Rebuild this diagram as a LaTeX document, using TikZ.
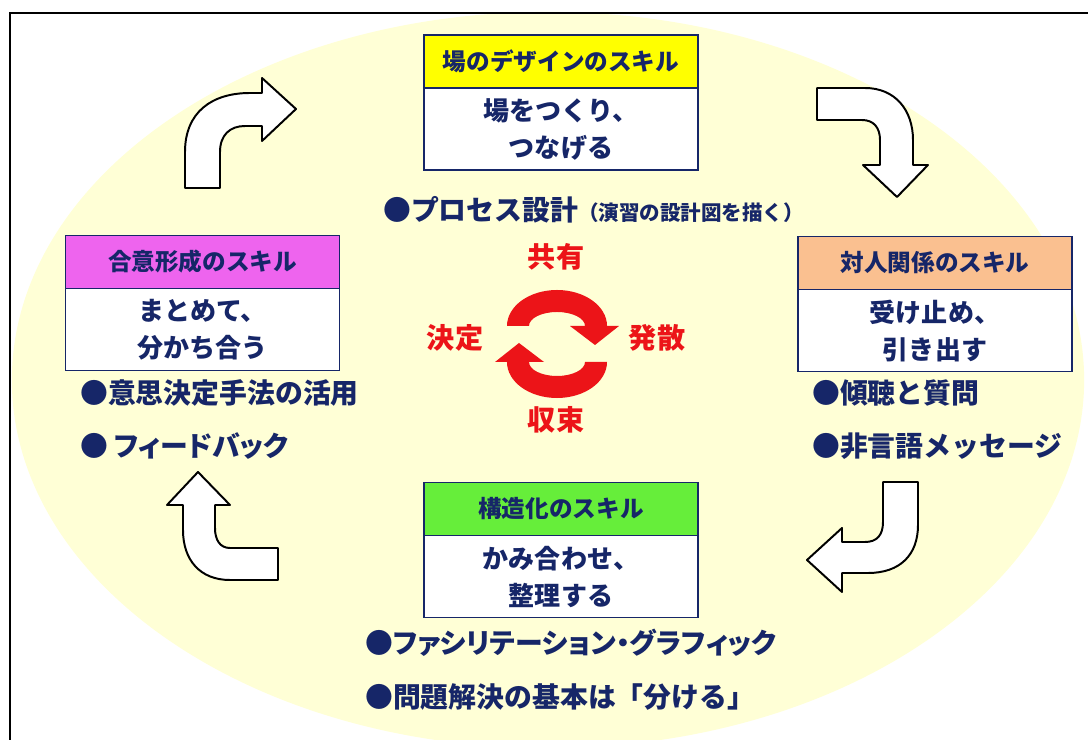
\documentclass[tikz,border=0pt]{standalone}
\usepackage{fontspec}
\setmainfont{Noto Sans CJK JP}
\newfontfamily\jpprop{Noto Sans CJK JP}[RawFeature=+palt]
\usetikzlibrary{positioning}
\definecolor{navy}{RGB}{22,38,104}
\definecolor{ovalyellow}{RGB}{255,255,214}
\definecolor{cyclered}{RGB}{236,20,24}
\definecolor{hdryellow}{RGB}{255,255,0}
\definecolor{hdrorange}{RGB}{250,192,144}
\definecolor{hdrpink}{RGB}{238,100,238}
\definecolor{hdrgreen}{RGB}{102,238,58}
\tikzset{hdr/.style={draw=navy,line width=1pt,outer sep=0pt,inner sep=0pt,
    minimum width=6.85cm,minimum height=1.33cm,text=navy,
    font=\fontsize{16.8}{18}\selectfont\bfseries}}
\tikzset{skillbody/.style={draw=navy,line width=1pt,outer sep=0pt,inner sep=0pt,fill=white,
    minimum width=6.85cm,minimum height=2.05cm,align=center,text=navy,
    font=\fontsize{18.5}{26.3}\selectfont\bfseries}}
\tikzset{bul/.style={anchor=west,inner sep=0pt,text=navy,
    font=\fontsize{19.8}{22}\selectfont\bfseries}}
\tikzset{cyc/.style={inner sep=0pt,text=cyclered,font=\fontsize{20}{22}\selectfont\bfseries}}
\tikzset{bentarrow/.style={draw=black,fill=white,line width=1.4pt,line join=round}}

\begin{document}
\begin{tikzpicture}[x=0.025cm,y=-0.025cm]
\useasboundingbox (0,0) rectangle (1088,740);
\clip (0,0) rectangle (1088,740);
\fill[white] (0,0) rectangle (1088,740);
\fill[ovalyellow] (548,380) ellipse [x radius=13.4cm, y radius=9.2cm];
\draw[line width=2pt] (10,13) rectangle (1110,770);
%
\node (designhdr) [hdr,fill=hdryellow] at (561,61.5) {場のデザインのスキル};
\node (design) [skillbody,below=0pt of designhdr] {場をつくり、\\つなげる};
\node (relhdr) [hdr,fill=hdrorange] at (935,263) {対人関係のスキル};
\node (rel) [skillbody,below=0pt of relhdr] {受け止め、\\引き出す};
\node (agreehdr) [hdr,fill=hdrpink] at (202.5,262) {合意形成のスキル};
\node (agree) [skillbody,below=0pt of agreehdr] {まとめて、\\分かち合う};
\node (structhdr) [hdr,fill=hdrgreen] at (561,509) {構造化のスキル};
\node (struct) [skillbody,below=0pt of structhdr] {かみ合わせ、\\整理する};
%
\node (process) [bul] at (383,210) {●プロセス設計{\fontsize{14.6}{16}\selectfont（演習の設計図を描く）}};
\node (decide) [bul] at (80,393) {●意思決定手法の活用};
\node (feedback) [bul] at (80,446) {● {\jpprop フィードバック}};
\node (listen) [bul] at (812,393) {●傾聴と質問};
\node (nonverbal) [bul] at (812,446) {●非言語メッセージ};
\node (facil) [bul] at (365,643) {●{\jpprop ファシリテーション・グラフィック}};
\node (solve) [bul] at (365,697) {●問題解決の基本は「分ける」};
%
\node (share) [cyc] at (556,257) {共有};
\node (diverge) [cyc] at (657,338) {発散};
\node (converge) [cyc] at (556,420) {収束};
\node (settle) [cyc] at (455,338) {決定};
% red cycle
\fill[cyclered] (507,326) arc[start angle=180,end angle=0,x radius=1.25cm,y radius=0.9cm]
  -- (619,326) -- (595,345) -- (570,326) -- (585,326)
  arc[start angle=0,end angle=180,x radius=0.7cm,y radius=0.35cm] -- cycle;
\fill[cyclered] (607,362) arc[start angle=0,end angle=-180,x radius=1.25cm,y radius=0.9cm]
  -- (495,362) -- (519,343) -- (544,362) -- (529,362)
  arc[start angle=180,end angle=360,x radius=0.7cm,y radius=0.35cm] -- cycle;
% bent arrows
\draw[bentarrow] (185,188) -- (185,152) .. controls (185,112) and (212,93) .. (250,93)
  -- (262,93) -- (262,78) -- (296,109) -- (262,141) -- (262,126) -- (245,126)
  .. controls (230,126) and (220,135) .. (220,152) -- (220,188) -- cycle;
\draw[bentarrow] (817,88) -- (865,88) .. controls (895,88) and (913,110) .. (913,140)
  -- (913,165) -- (928,165) -- (897,197) -- (863,165) -- (880,165) -- (880,140)
  .. controls (880,128) and (874,120) .. (862,120) -- (817,120) -- cycle;
\draw[bentarrow] (883,482) -- (918,482) -- (918,525) .. controls (918,555) and (900,573) .. (868,573)
  -- (842,573) -- (842,592) -- (807,560) -- (842,528) -- (842,542) -- (865,542)
  .. controls (877,542) and (883,535) .. (883,522) -- cycle;
\draw[bentarrow] (278,548) -- (230,548) .. controls (220,548) and (215,540) .. (215,528)
  -- (215,505) -- (230,505) -- (198,472) -- (167,505) -- (183,505) -- (183,530)
  .. controls (183,560) and (200,580) .. (230,580) -- (278,580) -- cycle;
\end{tikzpicture}
\end{document}
